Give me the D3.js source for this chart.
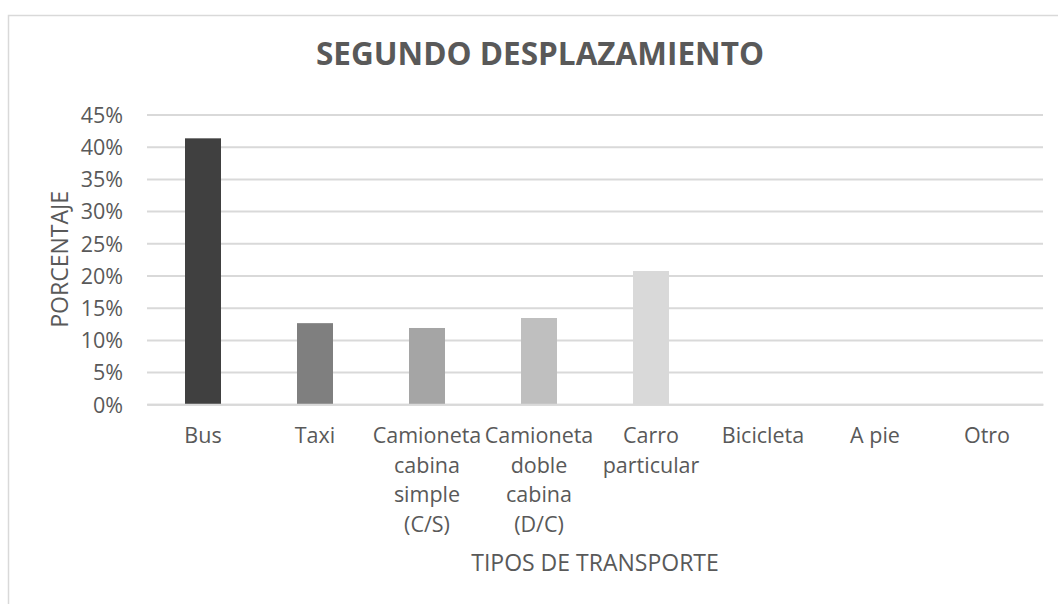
<!DOCTYPE html>
<html>
<head>
<meta charset="utf-8">
<script src="https://cdn.jsdelivr.net/npm/d3@7"></script>
<style>
  html, body { margin: 0; padding: 0; background: #fff; }
  svg { display: block; }
  text { font-family: "Open Sans", sans-serif; fill: #595959; }
</style>
</head>
<body>
<svg id="chart" width="1059" height="604"></svg>
<script>
const title = "SEGUNDO DESPLAZAMIENTO";
const xTitle = "TIPOS DE TRANSPORTE";
const yTitle = "PORCENTAJE";
const categories = [
  ["Bus"],
  ["Taxi"],
  ["Camioneta", "cabina", "simple", "(C/S)"],
  ["Camioneta", "doble", "cabina", "(D/C)"],
  ["Carro", "particular"],
  ["Bicicleta"],
  ["A pie"],
  ["Otro"]
];
const values = [0.413, 0.126, 0.1185, 0.134, 0.207, 0, 0, 0];
const colors = ["#404040", "#7f7f7f", "#a5a5a5", "#bfbfbf", "#d9d9d9", "#d9d9d9", "#d9d9d9", "#d9d9d9"];
const yTicks = [0, 0.05, 0.10, 0.15, 0.20, 0.25, 0.30, 0.35, 0.40, 0.45];

const svg = d3.select("#chart");
const plot = { left: 147, right: 1043, top: 114.5, bottom: 404.3 };

// chart border
svg.append("path")
  .attr("d", "M8.5,604 L8.5,15.5 L1058,15.5")
  .attr("fill", "none").attr("stroke", "#d9d9d9").attr("stroke-width", 1.5);

const idx = categories.map((d, i) => i);
const x = d3.scaleBand().domain(idx).range([plot.left, plot.right]).paddingInner(0).paddingOuter(0);
const y = d3.scaleLinear().domain([0, 0.45]).range([plot.bottom, plot.top]);

// gridlines
const yAxis = d3.axisLeft(y).tickValues(yTicks).tickFormat(d3.format(".0%"))
  .tickSize(-(plot.right - plot.left)).tickPadding(24);
const gy = svg.append("g").attr("transform", `translate(${plot.left},0)`).call(yAxis);
gy.select(".domain").remove();
gy.selectAll(".tick line").attr("stroke", "#d9d9d9").attr("stroke-width", 2);
gy.selectAll(".tick text").attr("font-size", 21.5).attr("fill", "#595959")
  .attr("font-family", "Open Sans, sans-serif").attr("dy", "0.36em");

// bars
const barW = 36;
svg.append("g").selectAll("rect").data(values).join("rect")
  .attr("x", (d, i) => x(i) + x.bandwidth() / 2 - barW / 2)
  .attr("width", barW)
  .attr("y", d => y(d))
  .attr("height", d => y(0) - y(d))
  .attr("fill", (d, i) => colors[i]);

// x axis line
const xAxis = d3.axisBottom(x).tickSize(0).tickFormat("");
const gx = svg.append("g").attr("transform", `translate(0,${plot.bottom})`).call(xAxis);
gx.select(".domain").attr("stroke", "#d9d9d9").attr("stroke-width", 2);

// x labels
const lab = svg.append("g");
categories.forEach((lines, i) => {
  const t = lab.append("text")
    .attr("text-anchor", "middle")
    .attr("font-size", 21.5)
    .attr("x", x(i) + x.bandwidth() / 2)
    .attr("y", 443);
  lines.forEach((ln, j) => {
    t.append("tspan").attr("x", x(i) + x.bandwidth() / 2).attr("y", 443 + j * 29.5).text(ln);
  });
});

// titles
svg.append("text").attr("x", 540).attr("y", 65).attr("text-anchor", "middle")
  .attr("font-size", 31.5).attr("font-weight", "bold").text(title);
svg.append("text").attr("x", 595).attr("y", 571).attr("text-anchor", "middle")
  .attr("font-size", 23).text(xTitle);
svg.append("text").attr("transform", `translate(68,259.4) rotate(-90)`).attr("text-anchor", "middle")
  .attr("font-size", 23).text(yTitle);
</script>
</body>
</html>
